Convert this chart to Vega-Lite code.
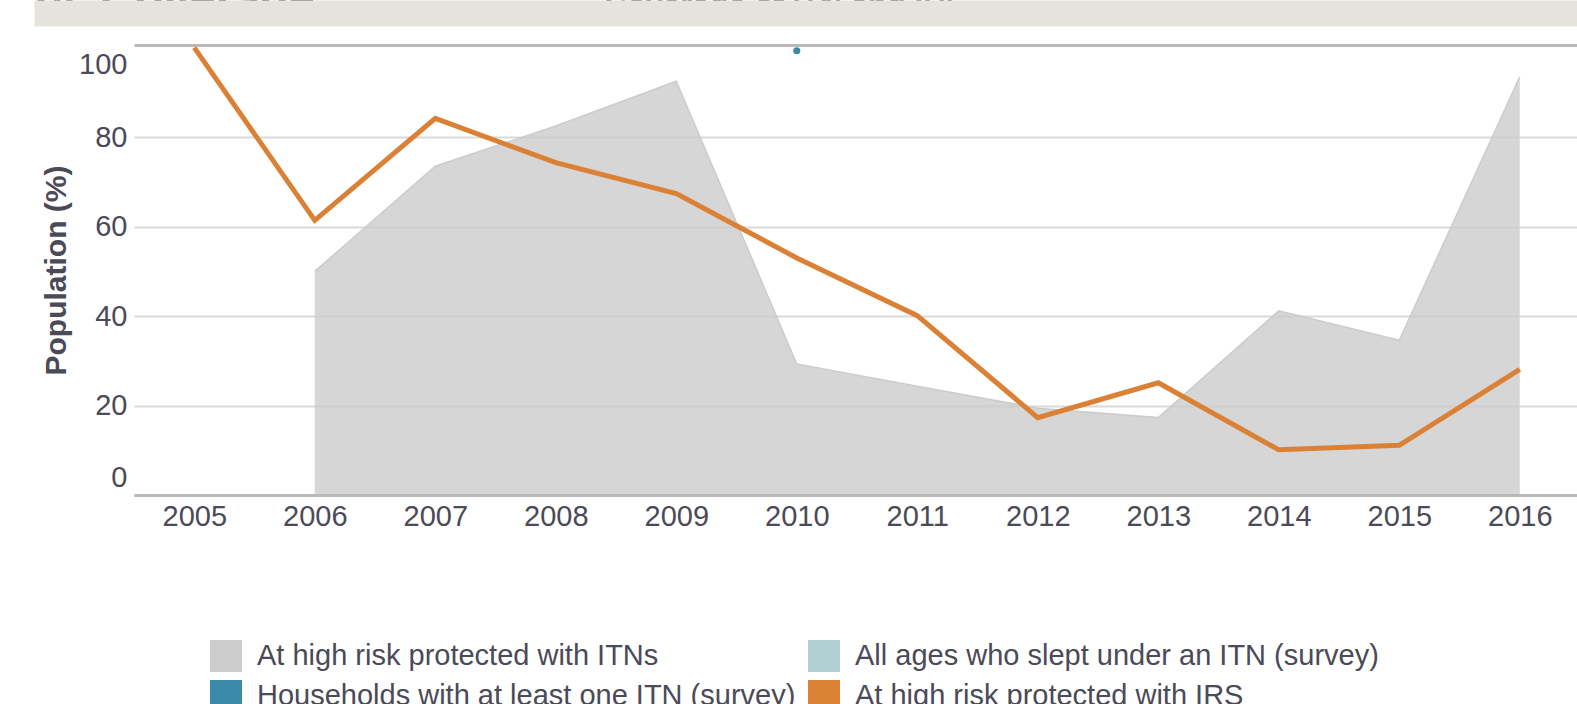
{
  "$schema": "https://vega.github.io/schema/vega-lite/v6.json",
  "background": "white",
  "autosize": {"type": "none"},
  "padding": {"left": 134, "top": 45, "right": 0, "bottom": 209},
  "width": 1443,
  "height": 450,
  "config": {
    "font": "Liberation Sans",
    "view": {"stroke": null}
  },
  "data": {
    "values": [
      {"year": 2006, "series": "At high risk protected with ITNs", "value": 50},
      {"year": 2007, "series": "At high risk protected with ITNs", "value": 73.5},
      {"year": 2008, "series": "At high risk protected with ITNs", "value": 82.5},
      {"year": 2009, "series": "At high risk protected with ITNs", "value": 92.5},
      {"year": 2010, "series": "At high risk protected with ITNs", "value": 29.3},
      {"year": 2011, "series": "At high risk protected with ITNs", "value": 24.3},
      {"year": 2012, "series": "At high risk protected with ITNs", "value": 19.4},
      {"year": 2013, "series": "At high risk protected with ITNs", "value": 17.3},
      {"year": 2014, "series": "At high risk protected with ITNs", "value": 41.2},
      {"year": 2015, "series": "At high risk protected with ITNs", "value": 34.6},
      {"year": 2016, "series": "At high risk protected with ITNs", "value": 93.5},
      {"year": 2005, "series": "At high risk protected with IRS", "value": 100},
      {"year": 2006, "series": "At high risk protected with IRS", "value": 61.4},
      {"year": 2007, "series": "At high risk protected with IRS", "value": 84.2},
      {"year": 2008, "series": "At high risk protected with IRS", "value": 74.3},
      {"year": 2009, "series": "At high risk protected with IRS", "value": 67.4},
      {"year": 2010, "series": "At high risk protected with IRS", "value": 53},
      {"year": 2011, "series": "At high risk protected with IRS", "value": 40.1},
      {"year": 2012, "series": "At high risk protected with IRS", "value": 17.3},
      {"year": 2013, "series": "At high risk protected with IRS", "value": 25.1},
      {"year": 2014, "series": "At high risk protected with IRS", "value": 10.1},
      {"year": 2015, "series": "At high risk protected with IRS", "value": 11.1},
      {"year": 2016, "series": "At high risk protected with IRS", "value": 28.1},
      {"year": 2010, "series": "Households with at least one ITN (survey)", "value": 99.3}
    ]
  },
  "encoding": {
    "y": {
      "field": "value",
      "type": "quantitative",
      "title": "Population (%)",
      "scale": {"domain": [0, 100.6], "nice": false, "zero": true}
    },
    "color": {
      "field": "series",
      "type": "nominal",
      "scale": {
        "domain": [
          "At high risk protected with ITNs",
          "Households with at least one ITN (survey)",
          "All ages who slept under an ITN (survey)",
          "At high risk protected with IRS"
        ],
        "range": ["#cccccc", "#3b89a8", "#b0d0d3", "#db8136"]
      },
      "legend": {
        "title": null,
        "orient": "none",
        "legendX": 76,
        "legendY": 595,
        "columns": 2,
        "padding": 0,
        "symbolType": "square",
        "symbolSize": 1024,
        "symbolStrokeWidth": 0,
        "symbolOpacity": 1,
        "labelFontSize": 29,
        "labelColor": "#4a4a58",
        "labelOffset": 15,
        "labelLimit": 0,
        "rowPadding": 8,
        "columnPadding": 12,
        "encode": {
          "symbols": {
            "update": {
              "fill": {"scale": "color", "field": "value"},
              "stroke": {"value": "transparent"},
              "strokeWidth": {"value": 0},
              "opacity": {"value": 1},
              "fillOpacity": {"value": 1}
            }
          }
        }
      }
    }
  },
  "layer": [
    {
      "transform": [{"filter": {"field": "series", "equal": "At high risk protected with ITNs"}}],
      "mark": {"type": "area", "fillOpacity": 0.8, "line": {"strokeWidth": 1.5}},
      "encoding": {
        "x": {
          "field": "year",
          "type": "ordinal",
          "scale": {"type": "point", "domain": [2005, 2006, 2007, 2008, 2009, 2010, 2011, 2012, 2013, 2014, 2015, 2016], "padding": 0.4876, "align": 0.513},
          "axis": {
            "orient": "bottom",
            "title": null,
            "labelAngle": 0,
            "labelFontSize": 29,
            "labelColor": "#4a4a58",
            "labelPadding": 7,
            "ticks": false,
            "grid": false,
            "domainColor": "#b9b9b9",
            "domainWidth": 3,
            "zindex": 1
          }
        },
        "y": {
          "field": "value",
          "type": "quantitative",
          "title": "Population (%)",
          "axis": {
            "values": [0, 20, 40, 60, 80, 100],
            "domain": false,
            "ticks": false,
            "grid": true,
            "gridColor": "#dadada",
            "gridWidth": 2,
            "gridOpacity": {"condition": {"test": "datum.value >= 100", "value": 0}, "value": 1},
            "labelFontSize": 29,
            "labelColor": "#4a4a58",
            "labelPadding": 7,
            "labelFlush": 4,
            "labelFlushOffset": -3,
            "titleX": -63,
            "titleY": 225,
            "titleFontSize": 30,
            "titleFontWeight": "bold",
            "titleColor": "#4a4a58",
            "titleAngle": 270,
            "titleBaseline": "bottom",
            "titleAlign": "center"
          }
        }
      }
    },
    {
      "transform": [{"filter": {"field": "series", "equal": "At high risk protected with IRS"}}],
      "mark": {"type": "line", "strokeWidth": 5},
      "encoding": {
        "x": {
          "field": "year",
          "type": "ordinal",
          "scale": {"type": "point", "domain": [2005, 2006, 2007, 2008, 2009, 2010, 2011, 2012, 2013, 2014, 2015, 2016], "padding": 0.4876, "align": 0.513},
          "axis": {
            "orient": "top",
            "title": null,
            "labels": false,
            "ticks": false,
            "grid": false,
            "domain": true,
            "domainColor": "#b9b9b9",
            "domainWidth": 3,
            "zindex": 1
          }
        }
      }
    },
    {
      "transform": [{"filter": {"field": "series", "equal": "Households with at least one ITN (survey)"}}],
      "mark": {"type": "point", "filled": true, "size": 50, "opacity": 1},
      "encoding": {
        "x": {
          "field": "year",
          "type": "ordinal",
          "scale": {"type": "point", "domain": [2005, 2006, 2007, 2008, 2009, 2010, 2011, 2012, 2013, 2014, 2015, 2016], "padding": 0.4876, "align": 0.513},
          "axis": null
        }
      }
    },
    {
      "transform": [{"filter": {"field": "series", "equal": "All ages who slept under an ITN (survey)"}}],
      "mark": {"type": "point", "filled": true, "size": 50, "opacity": 1},
      "encoding": {
        "x": {
          "field": "year",
          "type": "ordinal",
          "scale": {"type": "point", "domain": ["IV. Coverage", "Coverage of ITN and IRS"], "range": [-100, 1443], "padding": 0.8535, "align": 0},
          "axis": {
            "orient": "top",
            "offset": 32,
            "title": null,
            "ticks": false,
            "grid": false,
            "domain": true,
            "domainColor": "#e4e3de",
            "domainWidth": 26,
            "domainCap": "butt",
            "labelAngle": 0,
            "labelAlign": "left",
            "labelBaseline": "alphabetic",
            "labelPadding": -2,
            "labelLimit": 0,
            "labelOverlap": false,
            "labelFlush": false,
            "labelFont": "Liberation Sans",
            "labelFontWeight": "bold",
            "labelColor": "#6e6b5f",
            "labelFontSize": {"condition": {"test": "datum.value === 'IV. Coverage'", "value": 47}, "value": 31},
            "zindex": 0
          }
        }
      }
    }
  ],
  "resolve": {"scale": {"x": "independent"}, "axis": {"x": "independent"}}
}
